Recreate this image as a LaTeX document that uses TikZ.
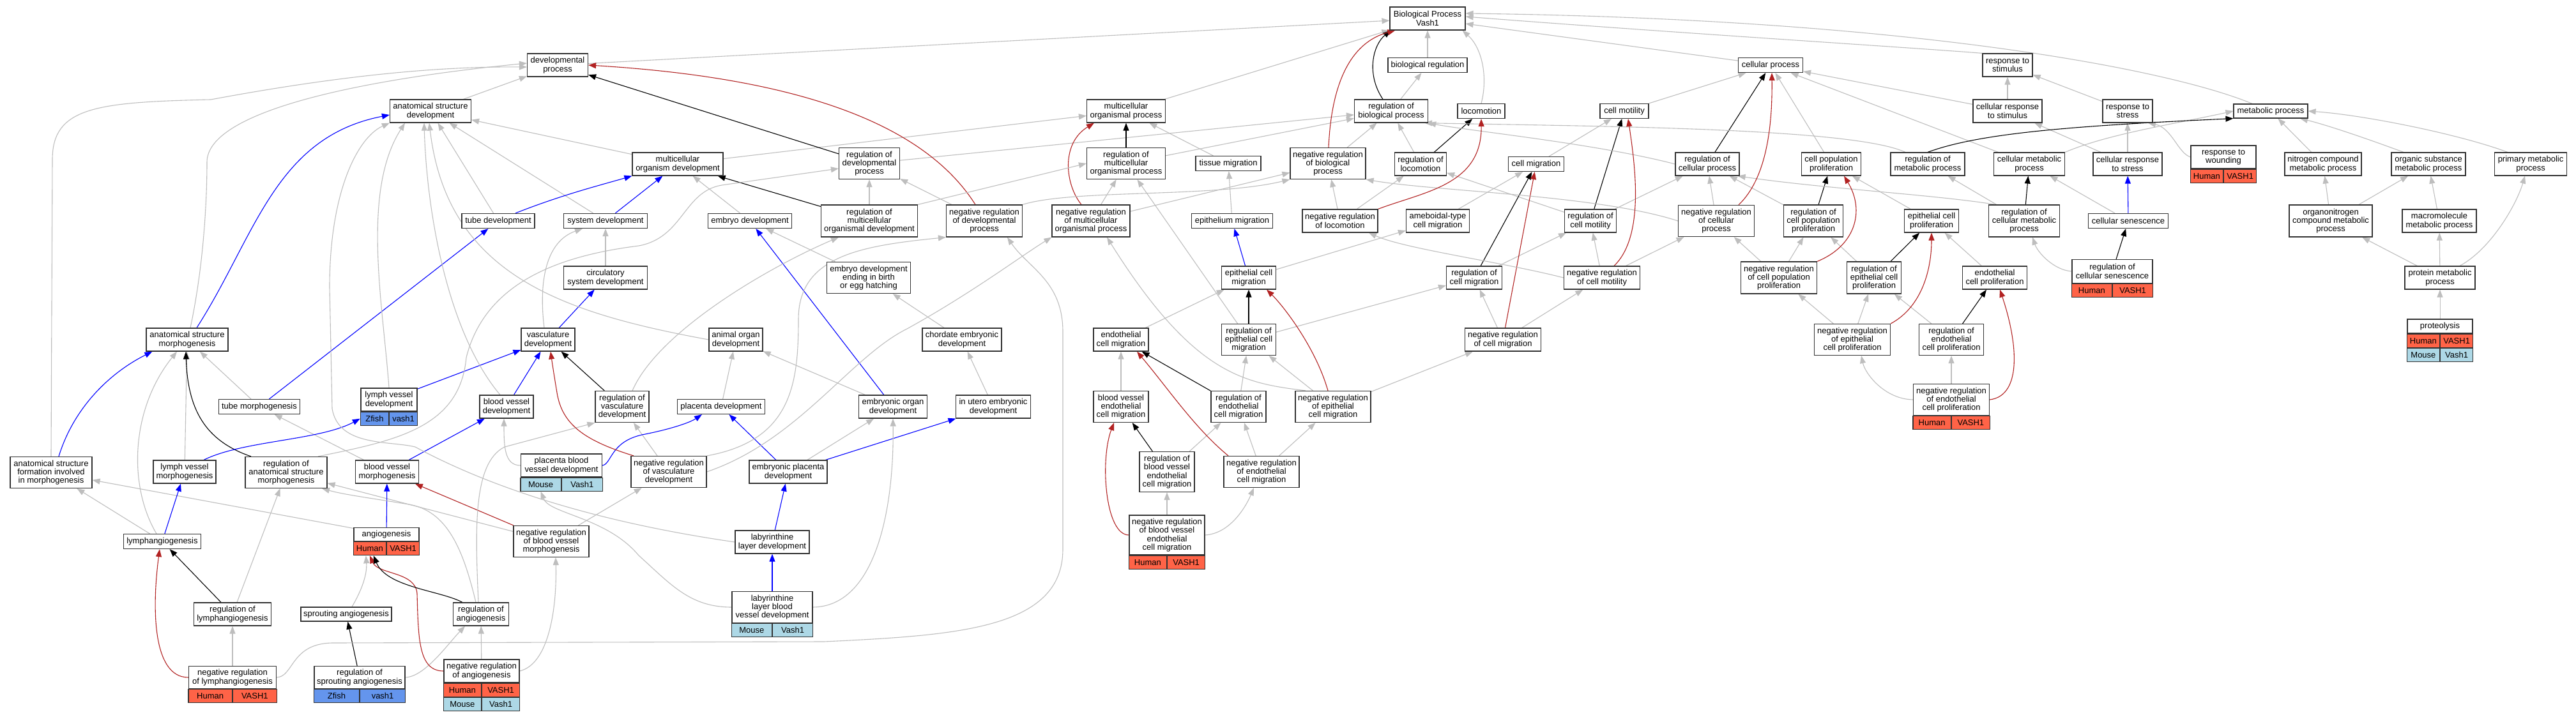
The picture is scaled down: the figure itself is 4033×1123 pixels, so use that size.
\documentclass[tikz,border=0pt]{standalone}
\usepackage{fontspec}
\setmainfont{Liberation Sans}
\usetikzlibrary{arrows.meta}
\definecolor{edgegray}{HTML}{BEBEBE}
\definecolor{firebrick}{HTML}{B22222}
\definecolor{tomato}{HTML}{FF6347}
\definecolor{lightblue}{HTML}{ADD8E6}
\definecolor{cornflower}{HTML}{6495ED}
\newcommand{\termfont}{\fontsize{13}{13.3}\selectfont}
% one row of species / gene cells under a term box
\newcommand{\gorow}[6]{%
  \node[#4, minimum width=#3, anchor=north east] (#1-l) at (#2) {#5};
  \node[#4, minimum width=#3, anchor=north west] (#1-r) at (#2) {#6};}
\pgfdeclarelayer{bg}
\pgfdeclarelayer{edges}
\pgfsetlayers{bg,edges,main}

\begin{document}
\begin{tikzpicture}[x=1pt,y=-1pt,
    term/.style 2 args={draw=black!80, line width=1.2pt, fill=white, align=center,
      inner sep=1pt, font=\termfont, minimum width=#1pt, minimum height=#2pt},
    tagh/.style={draw=black!80, line width=1.2pt, fill=tomato, inner sep=0pt,
      minimum height=21pt, font=\termfont},
    tagm/.style={tagh, fill=lightblue},
    tagz/.style={tagh, fill=cornflower}]
  \tikzset{isa/.style={draw=edgegray, line width=1.1pt, -{Triangle[length=12pt,width=9pt]}},
    partof/.style={isa, draw=blue}, regl/.style={isa, draw=black},
    negreg/.style={isa, draw=firebrick}}
  \useasboundingbox (0,0) rectangle (4033,1123);
  \begin{pgfonlayer}{bg}
    \fill[white] (0,0) rectangle (4033,1123);
  \end{pgfonlayer}

  % level 0-1
  \node[term={118}{36}] (bp) at (2235,29) {Biological Process\\Vash1};
  \node[term={95}{36}] (dev) at (873,102) {developmental\\process};
  \node[term={124}{23}] (bioreg) at (2235,102) {biological regulation};
  \node[term={101}{23}] (cellproc) at (2772,102) {cellular process};
  \node[term={78}{36}] (respstim) at (3143,102) {response to\\stimulus};
  % level 2
  \node[term={127}{36}] (asd) at (674,174) {anatomical structure\\development};
  \node[term={123}{36}] (mop) at (1763,174) {multicellular\\organismal process};
  \node[term={115}{36}] (rbp) at (2178,174) {regulation of\\biological process};
  \node[term={74}{23}] (loco) at (2319,174) {locomotion};
  \node[term={76}{23}] (cellmot) at (2543,174) {cell motility};
  \node[term={108}{36}] (crstim) at (3143,174) {cellular response\\to stimulus};
  \node[term={78}{36}] (rstress) at (3331,174) {response to\\stress};
  \node[term={116}{22}] (metab) at (3555,174) {metabolic process};
  % level 3
  \node[term={142}{36}] (mod) at (1061,257) {multicellular\\organism development};
  \node[term={95}{49}] (rdev) at (1361,256) {regulation of\\developmental\\process};
  \node[term={123}{49}] (rmop) at (1763,256) {regulation of\\multicellular\\organismal process};
  \node[term={102}{23}] (tissmig) at (1923,256) {tissue migration};
  \node[term={118}{49}] (nrbp) at (2079,256) {negative regulation\\of biological\\process};
  \node[term={81}{36}] (rloco) at (2224,257) {regulation of\\locomotion};
  \node[term={87}{23}] (cellmig) at (2405,257) {cell migration};
  \node[term={100}{36}] (rcp) at (2673,257) {regulation of\\cellular process};
  \node[term={93}{36}] (cpp) at (2867,257) {cell population\\proliferation};
  \node[term={116}{36}] (rmetab) at (3018,257) {regulation of\\metabolic process};
  \node[term={111}{36}] (cmetab) at (3177,257) {cellular metabolic\\process};
  \node[term={108}{36}] (crstress) at (3331,257) {cellular response\\to stress};
  \node[term={102}{36}] (wound) at (3481,246) {response to\\wounding};
  \gorow{wound}{wound.south}{51pt}{tagh}{Human}{VASH1}
  \node[term={120}{36}] (ncmp) at (3637,257) {nitrogen compound\\metabolic process};
  \node[term={116}{36}] (osmp) at (3802,257) {organic substance\\metabolic process};
  \node[term={113}{36}] (pmp) at (3962,257) {primary metabolic\\process};
  % level 4
  \node[term={114}{23}] (tubedev) at (780,346) {tube development};
  \node[term={131}{23}] (sysdev) at (948,346) {system development};
  \node[term={131}{23}] (embdev) at (1174,346) {embryo development};
  \node[term={151}{50}] (rmod) at (1361,346) {regulation of\\multicellular\\organismal development};
  \node[term={119}{50}] (nrdev) at (1541,346) {negative regulation\\of developmental\\process};
  \node[term={122}{50}] (nrmop) at (1708,346) {negative regulation\\of multicellular\\organismal process};
  \node[term={127}{23}] (epimig) at (1929,346) {epithelium migration};
  \node[term={118}{36}] (nrloco) at (2098,346) {negative regulation\\of locomotion};
  \node[term={99}{36}] (ameb) at (2251,346) {ameboidal-type\\cell migration};
  \node[term={81}{36}] (rcellmot) at (2490,346) {regulation of\\cell motility};
  \node[term={119}{49}] (nrcp) at (2687,346) {negative regulation\\of cellular\\process};
  \node[term={93}{50}] (rcpp) at (2839,346) {regulation of\\cell population\\proliferation};
  \node[term={85}{36}] (epiprol) at (3024,346) {epithelial cell\\proliferation};
  \node[term={111}{50}] (rcmetab) at (3169,346) {regulation of\\cellular metabolic\\process};
  \node[term={125}{23}] (senes) at (3332,346) {cellular senescence};
  \node[term={130}{50}] (onmp) at (3649,346) {organonitrogen\\compound metabolic\\process};
  \node[term={116}{36}] (mmp) at (3819,346) {macromolecule\\metabolic process};
  % level 5
  \node[term={131}{36}] (circ) at (948,435) {circulatory\\system development};
  \node[term={131}{49}] (edbirth) at (1360,435) {embryo development\\ending in birth\\or egg hatching};
  \node[term={85}{36}] (epicellmig) at (1955,435) {epithelial cell\\migration};
  \node[term={87}{36}] (rcellmig) at (2308,435) {regulation of\\cell migration};
  \node[term={119}{36}] (nrcellmot) at (2508,435) {negative regulation\\of cell motility};
  \node[term={119}{50}] (nrcpp) at (2785,435) {negative regulation\\of cell population\\proliferation};
  \node[term={85}{50}] (repiprol) at (2934,435) {regulation of\\epithelial cell\\proliferation};
  \node[term={101}{36}] (endprol) at (3123,435) {endothelial\\cell proliferation};
  \node[term={126}{37}] (rsenes) at (3307,425) {regulation of\\cellular senescence};
  \gorow{rsenes}{rsenes.south}{63pt}{tagh}{Human}{VASH1}
  \node[term={110}{36}] (protmp) at (3820,435) {protein metabolic\\process};
  % level 6
  \node[term={128}{36}] (asm) at (293,532) {anatomical structure\\morphogenesis};
  \node[term={84}{36}] (vascdev) at (858,532) {vasculature\\development};
  \node[term={84}{36}] (aorgdev) at (1152,532) {animal organ\\development};
  \node[term={124}{36}] (chord) at (1506,532) {chordate embryonic\\development};
  \node[term={86}{36}] (endmig) at (1755,532) {endothelial\\cell migration};
  \node[term={85}{49}] (repicellmig) at (1955,532) {regulation of\\epithelial cell\\migration};
  \node[term={119}{36}] (nrcellmig) at (2353,532) {negative regulation\\of cell migration};
  \node[term={119}{49}] (nrepiprol) at (2900,532) {negative regulation\\of epithelial\\cell proliferation};
  \node[term={101}{49}] (rendprol) at (3055,532) {regulation of\\endothelial\\cell proliferation};
  \node[term={102}{22}] (proteol) at (3820,511) {proteolysis};
  \gorow{proteol}{proteol.south}{51pt}{tagh}{Human}{VASH1}
  \gorow{proteolm}{proteol-l.south east}{51pt}{tagm}{Mouse}{Vash1}
  % level 7
  \node[term={127}{23}] (tubemorph) at (406,637) {tube morphogenesis};
  \node[term={88}{36}] (lvdev) at (609,626) {lymph vessel\\development};
  \gorow{lvdev}{lvdev.south}{44pt}{tagz}{Zfish}{vash1}
  \node[term={84}{36}] (bvdev) at (793,637) {blood vessel\\development};
  \node[term={84}{49}] (rvascdev) at (974,637) {regulation of\\vasculature\\development};
  \node[term={137}{23}] (placdev) at (1129,637) {placenta development};
  \node[term={107}{36}] (eorgdev) at (1398,637) {embryonic organ\\development};
  \node[term={117}{36}] (utero) at (1555,637) {in utero embryonic\\development};
  \node[term={86}{49}] (bvendmig) at (1755,637) {blood vessel\\endothelial\\cell migration};
  \node[term={86}{49}] (rendmig) at (1939,637) {regulation of\\endothelial\\cell migration};
  \node[term={118}{49}] (nrepicellmig) at (2087,637) {negative regulation\\of epithelial\\cell migration};
  \node[term={119}{49}] (nrendprol) at (3055,626) {negative regulation\\of endothelial\\cell proliferation};
  \gorow{nrendprol}{nrendprol.south}{59.5pt}{tagh}{Human}{VASH1}
  % level 8
  \node[term={128}{49}] (asfim) at (80,740) {anatomical structure\\formation involved\\in morphogenesis};
  \node[term={98}{36}] (lvmorph) at (289,739) {lymph vessel\\morphogenesis};
  \node[term={128}{49}] (rasm) at (448,740) {regulation of\\anatomical structure\\morphogenesis};
  \node[term={99}{36}] (bvmorph) at (606,739) {blood vessel\\morphogenesis};
  \node[term={127}{36}] (pbvdev) at (879,729) {placenta blood\\vessel development};
  \gorow{pbvdev}{pbvdev.south}{63.5pt}{tagm}{Mouse}{Vash1}
  \node[term={118}{49}] (nrvascdev) at (1047,739) {negative regulation\\of vasculature\\development};
  \node[term={122}{36}] (eplacdev) at (1234,739) {embryonic placenta\\development};
  \node[term={86}{63}] (rbvendmig) at (1827,739) {regulation of\\blood vessel\\endothelial\\cell migration};
  \node[term={118}{49}] (nrendmig) at (1975,739) {negative regulation\\of endothelial\\cell migration};
  % level 9
  \node[term={121}{23}] (lymphang) at (254,848) {lymphangiogenesis};
  \node[term={102}{21}] (angio) at (605,837) {angiogenesis};
  \gorow{angio}{angio.south}{51pt}{tagh}{Human}{VASH1}
  \node[term={118}{49}] (nrbvmorph) at (863,848) {negative regulation\\of blood vessel\\morphogenesis};
  \node[term={116}{36}] (labdev) at (1209,849) {labyrinthine\\layer development};
  \node[term={118}{62}] (nrbvendmig) at (1827,838) {negative regulation\\of blood vessel\\endothelial\\cell migration};
  \gorow{nrbvendmig}{nrbvendmig.south}{59pt}{tagh}{Human}{VASH1}
  % level 10-11
  \node[term={121}{36}] (rlymphang) at (364,962) {regulation of\\lymphangiogenesis};
  \node[term={142}{22}] (sprout) at (542,962) {sprouting angiogenesis};
  \node[term={87}{36}] (rangio) at (753,962) {regulation of\\angiogenesis};
  \node[term={126}{49}] (labbvdev) at (1209,951) {labyrinthine\\layer blood\\vessel development};
  \gorow{labbvdev}{labbvdev.south}{63pt}{tagm}{Mouse}{Vash1}
  \node[term={137}{35}] (nrlymphang) at (364,1061) {negative regulation\\of lymphangiogenesis};
  \gorow{nrlymphang}{nrlymphang.south}{68.5pt}{tagh}{Human}{VASH1}
  \node[term={142}{35}] (rsprout) at (563,1061) {regulation of\\sprouting angiogenesis};
  \gorow{rsprout}{rsprout.south}{71pt}{tagz}{Zfish}{vash1}
  \node[term={118}{36}] (nrangio) at (754,1051) {negative regulation\\of angiogenesis};
  \gorow{nrangio}{nrangio.south}{59pt}{tagh}{Human}{VASH1}
  \gorow{nrangiom}{nrangio-l.south east}{59pt}{tagm}{Mouse}{Vash1}

  \begin{pgfonlayer}{edges}
    % is_a, straight
    \foreach \c/\p in {asd/dev, mod/asd, sysdev/asd, tubedev/asd, embdev/mod, circ/sysdev,
        edbirth/embdev, chord/edbirth, utero/chord, eorgdev/aorgdev, placdev/aorgdev,
        eplacdev/eorgdev, rmod/rdev, nrdev/rdev, nrmop/rmop, mod/mop, rdev/rbp, rmop/rbp,
        dev/bp, mop/bp, tissmig/mop, epimig/tissmig, endmig/epicellmig, epicellmig/ameb,
        repicellmig/rcellmig, repicellmig/rmop, bvendmig/endmig, nrbvendmig/rbvendmig,
        rbvendmig/rendmig, nrendmig/rendmig, nrendmig/nrepicellmig, rendmig/repicellmig,
        nrepicellmig/repicellmig, nrepicellmig/nrcellmig, bioreg/bp, rbp/bioreg, nrbp/rbp,
        rloco/rbp, nrloco/rloco, nrloco/nrbp, ameb/cellmig, cellmig/cellmot, cellmot/cellproc,
        rcellmot/rloco, rcellmot/rcp, nrcellmot/rcellmot, nrcellmot/nrcp, rcellmig/rcellmot,
        nrcellmig/rcellmig, nrcellmig/nrcellmot, nrcp/rcp, rcpp/rcp, nrcpp/nrcp, nrcpp/rcpp,
        cpp/cellproc, epiprol/cpp, repiprol/rcpp, endprol/epiprol, nrepiprol/nrcpp,
        nrepiprol/repiprol, rendprol/repiprol, nrendprol/rendprol, crstim/respstim,
        crstim/cellproc, rstress/respstim, crstress/crstim, crstress/rstress, senes/cmetab,
        rcmetab/rmetab, cmetab/cellproc, cellproc/bp, ncmp/metab, onmp/ncmp, onmp/osmp,
        mmp/osmp, protmp/onmp, protmp/mmp, proteol/protmp, lvmorph/asm, tubemorph/asm,
        bvmorph/tubemorph, lymphang/asfim, angio/asfim, nrlymphang/rlymphang, rlymphang/rasm,
        nrangio/rangio, nrbvmorph/nrvascdev, nrvascdev/rvascdev, nrbvmorph/rasm, nrmop/nrbp}
      \draw[isa] (\c) -- (\p);
    \foreach \c/\p in {rlymphang/lymphang, rsprout/sprout, rvascdev/vascdev, rdev/dev,
        rmod/mod, rmop/mop, rloco/loco, rcellmig/cellmig, rcellmot/cellmot, rcp/cellproc,
        rcpp/cpp, repiprol/epiprol, rendprol/endprol, rcmetab/cmetab, rsenes/senes,
        repicellmig/epicellmig, rendmig/endmig, rbvendmig/bvendmig}
      \draw[regl] (\c) -- (\p);
    \foreach \c/\p in {tubemorph/tubedev, lymphang/lvmorph, angio/bvmorph, bvmorph/bvdev,
        lvdev/vascdev, bvdev/vascdev, vascdev/circ, sysdev/mod, eplacdev/placdev,
        labdev/eplacdev, labbvdev/labdev, eorgdev/embdev, epicellmig/epimig,
        senes/crstress, eplacdev/utero}
      \draw[partof] (\c) -- (\p);
    \foreach \c/\p in {nrbvmorph/bvmorph, nrcellmig/cellmig}
      \draw[negreg] (\c) -- (\p);

    % long and bent connectors, left part
    \draw[isa] (asfim.north) -- (82,250) .. controls (82,168) and (150,160) .. (330,156)
      .. controls (550,115) and (700,104) .. ([yshift=-3pt]dev.west);
    \draw[isa] ([xshift=5pt]asm.north) .. controls (318,420) and (324,320) .. (324,254)
      .. controls (324,175) and (560,125) .. ([yshift=3pt]dev.west);
    \draw[partof] ([xshift=15pt]asm.north) .. controls (400,370) and (430,215) .. ([yshift=-6pt]asd.west);
    \draw[partof] ([xshift=12pt]asfim.north) .. controls (115,640) and (170,585) .. ([xshift=10pt]asm.south west);
    \draw[isa] ([xshift=-9pt]lymphang.north) .. controls (200,760) and (205,640) .. ([xshift=-16pt]asm.south);
    \draw[regl] ([xshift=-55pt]rasm.north) .. controls (320,690) and (294,640) .. ([xshift=-2pt]asm.south);
    \draw[partof] ([xshift=30pt]lvmorph.north) .. controls (380,690) and (500,690) .. (lvdev-l.west);
    \draw[isa] (lvdev.north) .. controls (600,480) and (565,300) .. ([xshift=-40pt]asd.south);
    \draw[isa] (labdev.west) .. controls (950,820) and (780,770) .. (650,700)
      .. controls (610,690) and (530,700) .. (520,640) -- (516,450)
      .. controls (516,300) and (560,215) .. (asd.south west);
    \draw[isa] ([xshift=-10pt]bvdev.north) .. controls (700,520) and (668,330) .. ([xshift=-10pt]asd.south);
    \draw[isa] (aorgdev.west) .. controls (880,490) and (700,430) .. ([xshift=-2pt]asd.south);
    \draw[isa] ([xshift=50pt]rasm.north) .. controls (620,690) and (720,670) .. (730,560)
      .. controls (760,440) and (880,400) .. (1000,385)
      .. controls (1070,372) and (1070,300) .. (1130,290) -- ([yshift=-8pt]rdev.west);
    \draw[isa] ([xshift=16pt]rvascdev.north) .. controls (1030,520) and (1200,420) .. ([xshift=-48pt]rmod.south);
    \draw[isa] (nrvascdev.north east) .. controls (1240,690) and (1250,600) .. (1250,500)
      .. controls (1250,400) and (1350,385) .. (nrdev.south west);
    \draw[isa] (nrvascdev.east) .. controls (1250,690) and (1330,560) .. (1420,515)
      .. controls (1520,460) and (1600,400) .. (nrmop.south west);
    \draw[isa] (nrlymphang.east) .. controls (460,1060) and (455,1008) .. (520,1007) -- (1290,1005)
      .. controls (1500,995) and (1664,985) .. (1664,860) -- (1664,520)
      .. controls (1664,440) and (1610,420) .. ([xshift=36pt]nrdev.south);
    \draw[isa] (rsprout.east) .. controls (665,1060) and (700,1010) .. ([xshift=-25pt]rangio.south);
    \draw[isa] ([xshift=-4pt]rangio.north) .. controls (744,830) and (740,725) .. (790,700) -- (rvascdev.south west);
    \draw[isa] ([xshift=-8pt]rangio.north) .. controls (725,860) and (700,800) .. (640,790)
      .. controls (580,780) and (540,775) .. ([xshift=56pt]rasm.south);
    \draw[isa] (pbvdev.west) .. controls (790,729) and (789,700) .. ([xshift=-4pt]bvdev.south);
    \draw[partof] (pbvdev.east) .. controls (958,727) and (955,690) .. (1010,680)
      .. controls (1050,672) and (1080,662) .. ([xshift=-30pt]placdev.south);
    \draw[isa] (labbvdev.west) .. controls (1080,951) and (1050,915) .. (1000,870)
      .. controls (950,810) and (860,805) .. (pbvdev-l.south);
    \draw[isa] (labbvdev.east) .. controls (1370,950) and (1400,800) .. (eorgdev.south);
    \draw[isa] ([xshift=-6pt]vascdev.north) .. controls (843,440) and (855,378) .. ([xshift=-36pt]sysdev.south);
    \draw[partof] ([xshift=27pt]tubedev.north) .. controls (880,305) and (940,290) .. (mod.south west);
    \draw[negreg] ([xshift=-14pt]nrdev.north) .. controls (1460,215) and (1300,125) .. (dev.east);
    \draw[negreg] ([xshift=-15pt]nrmop.north) .. controls (1668,290) and (1660,225) .. ([xshift=-50pt]mop.south);
    \draw[isa] (nrdev.north east) .. controls (1680,296) and (1900,310) .. (nrbp.south west);
    \draw[isa] ([xshift=-43pt]nrepicellmig.north) .. controls (1950,600) and (1870,590) .. ([xshift=25pt]nrmop.south);
    \draw[isa] (rmod.north east) -- (rmop.west);
    \draw[negreg] ([xshift=-55pt]nrvascdev.north) .. controls (915,690) and (880,665) .. (872,615)
      .. controls (867,585) and (864,565) .. ([xshift=4pt]vascdev.south);
    \draw[negreg] (nrlymphang.west) .. controls (238,1061) and (238,950) .. ([xshift=-4pt]lymphang.south);
    \draw[negreg] (nrangio.west) .. controls (655,1051) and (655,1000) .. (653,930)
      .. controls (651,895) and (592,900) .. (angio-l.south);
    \draw[regl] ([xshift=-29pt]rangio.north) .. controls (690,925) and (605,920) .. ([xshift=6pt]angio-l.south);
    \draw[isa] ([xshift=9pt]sprout.north) .. controls (566,925) and (575,900) .. ([xshift=-6pt]angio-l.south);
    \draw[isa] (nrangio.east) .. controls (860,1040) and (872,950) .. ([xshift=7pt]nrbvmorph.south);

    % long and bent connectors, middle and right part
    \draw[negreg] ([xshift=-52pt]nrendmig.north) .. controls (1870,670) and (1830,610) .. ([xshift=25pt]endmig.south);
    \draw[negreg] (nrbvendmig.west) .. controls (1730,838) and (1722,720) .. ([xshift=-11pt]bvendmig.south);
    \draw[isa] (nrbvendmig.east) .. controls (1925,836) and (1950,795) .. ([xshift=-12pt]nrendmig.south);
    \draw[negreg] ([xshift=-8pt]nrepicellmig.north) .. controls (2060,545) and (2010,480) .. ([xshift=28pt]epicellmig.south);
    \draw[isa] (nrcp.west) .. controls (2500,305) and (2250,300) .. (nrbp.south east);
    \draw[isa] (rcp.west) .. controls (2500,225) and (2300,205) .. (rbp.south east);
    \draw[isa] ([xshift=-35pt]rmetab.north) .. controls (2900,200) and (2500,198) .. ([xshift=-6pt]rbp.south east);
    \draw[isa] ([xshift=-45pt]rcmetab.north) .. controls (3030,305) and (2850,295) .. ([xshift=-3pt]rcp.south east);
    \draw[isa] (nrcellmot.west) .. controls (2350,410) and (2200,390) .. ([xshift=45pt]nrloco.south);
    \draw[isa] (wound.west) .. controls (3410,240) and (3400,200) .. ([xshift=32pt]rstress.south);
    \draw[isa] (rsenes.west) .. controls (3215,423) and (3190,395) .. ([xshift=13pt]rcmetab.south);
    \draw[isa] (cmetab.north east) .. controls (3300,210) and (3400,195) .. (metab.west);
    \draw[regl] (rmetab.north) .. controls (3100,208) and (3250,197) .. (metab.south west);
    \draw[isa] ([xshift=-36pt]pmp.north) .. controls (3850,210) and (3700,180) .. (metab.east);
    \draw[isa] ([xshift=-39pt]osmp.north) .. controls (3700,215) and (3640,195) .. ([xshift=46pt]metab.south);
    \draw[isa] ([xshift=31pt]protmp.north) .. controls (3900,390) and (3940,320) .. ([xshift=-9pt]pmp.south);
    \draw[isa] (respstim.north west) .. controls (3000,75) and (2600,50) .. ([yshift=3pt]bp.east);
    \draw[isa] ([xshift=-29pt]metab.north) .. controls (3400,110) and (3000,30) .. ([yshift=8pt]bp.east);
    \draw[isa] (loco.north) .. controls (2330,120) and (2320,75) .. ([xshift=-5pt]bp.south east);
    \draw[regl] ([xshift=-13pt]rbp.north) .. controls (2138,115) and (2150,70) .. ([xshift=2pt]bp.south west);
    \draw[negreg] ([xshift=1pt]nrbp.north) .. controls (2085,120) and (2120,65) .. ([xshift=9pt]bp.south west);
    \draw[negreg] (nrloco.north east) .. controls (2230,300) and (2320,290) .. (loco.south);
    \draw[negreg] ([xshift=19pt]nrcellmot.north) .. controls (2575,370) and (2560,260) .. ([xshift=6pt]cellmot.south);
    \draw[negreg] ([xshift=35pt]nrcp.north) .. controls (2765,280) and (2775,200) .. ([xshift=2pt]cellproc.south);
    \draw[negreg] (nrcpp.north east) .. controls (2905,385) and (2920,330) .. ([xshift=20pt]cpp.south);
    \draw[negreg] (nrepiprol.north east) .. controls (3010,480) and (3024,420) .. (epiprol.south);
    \draw[negreg] (nrendprol.east) .. controls (3165,620) and (3160,540) .. ([xshift=8pt]endprol.south);
    \draw[isa] (nrendprol.west) .. controls (2950,625) and (2920,585) .. ([xshift=14pt]nrepiprol.south);
  \end{pgfonlayer}
\end{tikzpicture}
\end{document}
